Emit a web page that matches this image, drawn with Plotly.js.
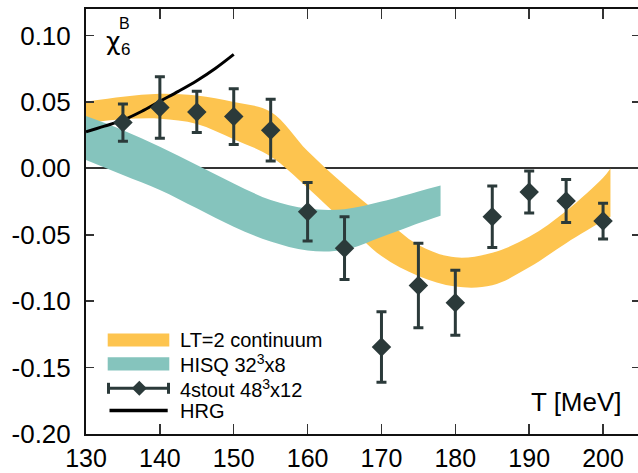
<!DOCTYPE html>
<html><head><meta charset="utf-8">
<script src="https://cdn.plot.ly/plotly-3.0.1.min.js"></script>
<style>html,body{margin:0;padding:0;overflow:hidden;background:#fff}#chart{width:640px;height:473px}</style>
</head><body><div id="chart"></div>
<script>
// LT=2 continuum band
const ltT     = [130, 135, 140, 145, 150, 155, 160, 165, 170, 175, 180, 185, 190, 195, 200, 201];
const ltUpper = [0.0502, 0.0539, 0.0562, 0.0548, 0.050, 0.0426, 0.013, -0.0126, -0.0358, -0.0576, -0.067, -0.0635, -0.0515, -0.032, -0.007, 0.0];
const ltLower = [0.034, 0.0369, 0.0374, 0.0335, 0.022, 0.009, -0.0145, -0.0405, -0.066, -0.081, -0.089, -0.088, -0.0745, -0.0563, -0.0395, -0.0364];
// HISQ 32^3x8 band
const hisqT     = [130, 135, 140, 145, 150, 155, 160, 165, 170, 175, 178];
const hisqUpper = [0.0394, 0.0288, 0.0163, 0.0025, -0.0113, -0.0238, -0.0303, -0.0307, -0.025, -0.0174, -0.0129];
const hisqLower = [0.0063, -0.005, -0.0163, -0.0301, -0.044, -0.0551, -0.0619, -0.0613, -0.0517, -0.0413, -0.0356];
// 4stout 48^3x12 points
const stoutT   = [135, 140, 145, 150, 155, 160, 165, 170, 175, 180, 185, 190, 195, 200];
const stoutY   = [0.0345, 0.0458, 0.0425, 0.039, 0.0288, -0.0327, -0.0601, -0.1345, -0.0882, -0.1012, -0.0364, -0.0178, -0.0246, -0.0397];
const stoutErr = [0.014, 0.0232, 0.0155, 0.021, 0.0233, 0.022, 0.0236, 0.0265, 0.0318, 0.0245, 0.0231, 0.0158, 0.0162, 0.0134];
// HRG
const hrgT = [130, 132.5, 135, 137.5, 140, 142.5, 145, 147.5, 150];
const hrgY = [0.0275, 0.0318, 0.0363, 0.0428, 0.0505, 0.058, 0.066, 0.0752, 0.0858];
// ticks
const xTicks = [130, 140, 150, 160, 170, 180, 190, 200];
const yTicks = [-0.20, -0.15, -0.10, -0.05, 0.00, 0.05, 0.10];
const yTickText = ['-0.20', '-0.15', '-0.10', '-0.05', '0.00', '0.05', '0.10'];
const legendLabels = ['LT=2 continuum', 'HISQ 32<sup>3</sup>x8', '4stout 48<sup>3</sup>x12', 'HRG'];

const ORANGE = '#fdc44f', TEAL = '#85c4bd', DARK = '#2b3a3a';
const FONT = 'Liberation Sans, Arial, sans-serif';
const L = 86, T = 9, W = 554, H = 425;
const px = x => (x - L) / W;
const py = y => (T + H - y) / H;

const traces = [
  {x: ltT, y: ltLower, mode: 'lines', line: {width: 0, shape: 'spline', color: ORANGE}, hoverinfo: 'skip', showlegend: false},
  {x: ltT, y: ltUpper, mode: 'lines', line: {width: 0, shape: 'spline', color: ORANGE}, fill: 'tonexty', fillcolor: ORANGE, name: legendLabels[0], showlegend: false},
  {x: hisqT, y: hisqLower, mode: 'lines', line: {width: 0, shape: 'spline', color: TEAL}, hoverinfo: 'skip', showlegend: false},
  {x: hisqT, y: hisqUpper, mode: 'lines', line: {width: 0, shape: 'spline', color: TEAL}, fill: 'tonexty', fillcolor: TEAL, name: legendLabels[1], showlegend: false},
  {x: hrgT, y: hrgY, mode: 'lines', line: {width: 3, color: '#000', shape: 'spline'}, name: legendLabels[3], showlegend: false},
  {x: stoutT, y: stoutY, mode: 'markers', marker: {symbol: 'diamond', size: 15, color: DARK},
   error_y: {type: 'data', array: stoutErr, visible: true, color: DARK, thickness: 3, width: 5},
   name: legendLabels[2], showlegend: false}
];

const legY = [340, 363.5, 388.3, 410.5];
const shapes = [
  {type: 'rect', xref: 'paper', yref: 'paper', x0: px(107.7), x1: px(169.3), y0: py(346.5), y1: py(333.5), fillcolor: ORANGE, line: {width: 0}},
  {type: 'rect', xref: 'paper', yref: 'paper', x0: px(107.7), x1: px(169.3), y0: py(370.5), y1: py(357.3), fillcolor: TEAL, line: {width: 0}},
  {type: 'line', xref: 'paper', yref: 'paper', x0: px(108.5), x1: px(168.5), y0: py(legY[2]), y1: py(legY[2]), line: {width: 3, color: DARK}},
  {type: 'line', xref: 'paper', yref: 'paper', x0: px(108.5), x1: px(108.5), y0: py(legY[2] - 5.5), y1: py(legY[2] + 5.5), line: {width: 3, color: DARK}},
  {type: 'line', xref: 'paper', yref: 'paper', x0: px(168.5), x1: px(168.5), y0: py(legY[2] - 5.5), y1: py(legY[2] + 5.5), line: {width: 3, color: DARK}},
  {type: 'path', xref: 'paper', yref: 'paper', xsizemode: 'pixel', ysizemode: 'pixel', xanchor: px(139.3), yanchor: py(legY[2]),
   path: 'M -7.5 0 L 0 7.5 L 7.5 0 L 0 -7.5 Z', fillcolor: DARK, line: {width: 0}},
  {type: 'line', xref: 'paper', yref: 'paper', x0: px(109.5), x1: px(167.7), y0: py(legY[3]), y1: py(legY[3]), line: {width: 3.5, color: '#000'}}
];

const annotations = legendLabels.map((t, i) => ({
  text: t, xref: 'paper', yref: 'paper', x: px(178), y: py(legY[i]), xanchor: 'left', yanchor: 'middle',
  showarrow: false, font: {family: FONT, size: 20, color: '#000'}
}));
annotations.push(
  {text: 'T [MeV]', xref: 'paper', yref: 'paper', x: px(624), y: py(401.7), xanchor: 'right', yanchor: 'middle', showarrow: false, font: {family: FONT, size: 26, color: '#000'}},
  {text: 'χ', xref: 'paper', yref: 'paper', x: px(113), y: py(42), xanchor: 'center', yanchor: 'middle', showarrow: false, font: {family: 'DejaVu Sans, sans-serif', size: 25, color: '#000'}},
  {text: 'B', xref: 'paper', yref: 'paper', x: px(124.5), y: py(23.5), xanchor: 'center', yanchor: 'middle', showarrow: false, font: {family: FONT, size: 16, color: '#000'}},
  {text: '6', xref: 'paper', yref: 'paper', x: px(125.5), y: py(49), xanchor: 'center', yanchor: 'middle', showarrow: false, font: {family: FONT, size: 17, color: '#000'}}
);

const layout = {
  width: 640, height: 473,
  margin: {l: L, r: 0, t: T, b: 473 - T - H},
  paper_bgcolor: '#fff', plot_bgcolor: '#fff',
  showlegend: false,
  font: {family: FONT, color: '#000'},
  xaxis: {range: [130, 205], tickvals: xTicks, ticks: 'inside', ticklen: 10, tickwidth: 1.5, tickcolor: '#333',
          showline: true, linecolor: '#111', linewidth: 2, mirror: 'ticks', showgrid: false, zeroline: false,
          ticklabelstandoff: 1,
          tickfont: {family: FONT, size: 25, color: '#000'}, fixedrange: true},
  yaxis: {range: [-0.2, 0.12], tickvals: yTicks, ticktext: yTickText, ticks: 'inside', ticklen: 8, tickwidth: 1.5, tickcolor: '#333',
          showline: true, linecolor: '#111', linewidth: 2, mirror: 'ticks', showgrid: false,
          zeroline: true, zerolinecolor: '#333', zerolinewidth: 2, ticklabelstandoff: 8,
          tickfont: {family: FONT, size: 26, color: '#000'}, fixedrange: true},
  shapes: shapes,
  annotations: annotations
};

Plotly.newPlot('chart', traces, layout, {displayModeBar: false, staticPlot: true});
</script></body></html>
